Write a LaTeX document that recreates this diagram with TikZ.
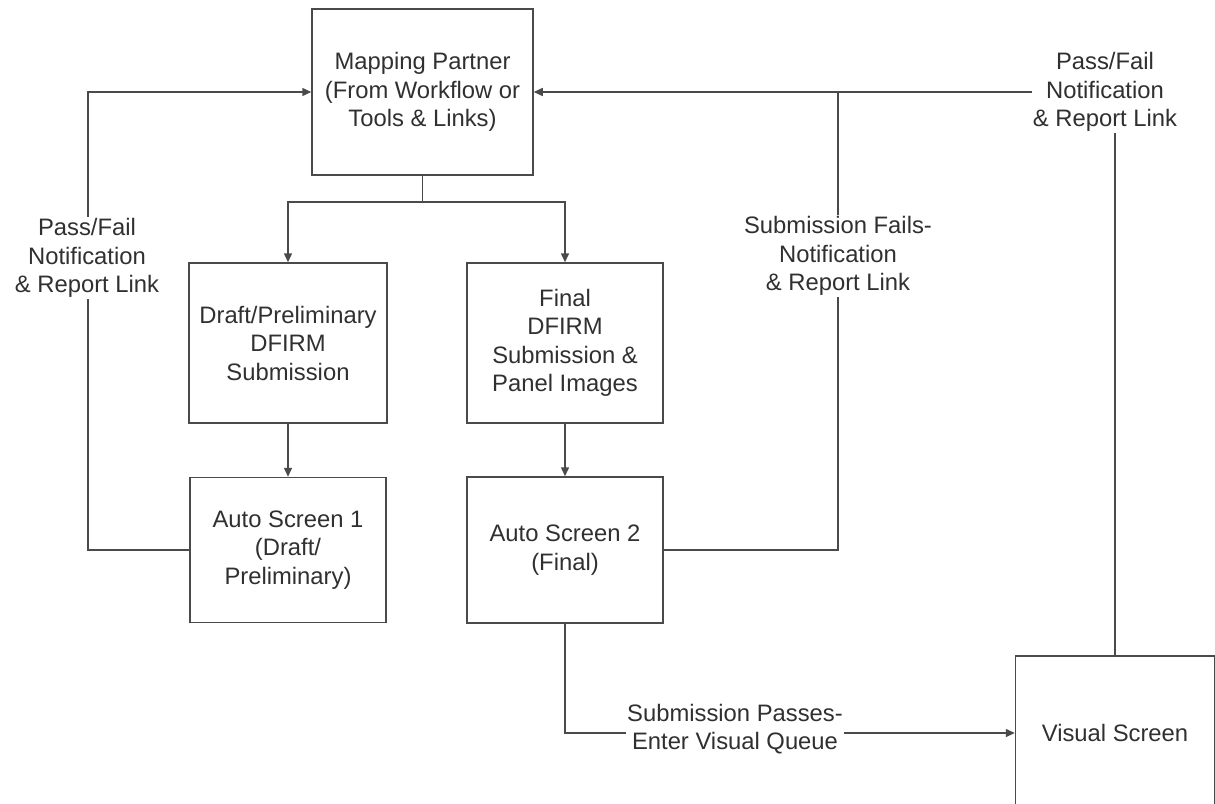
\documentclass[tikz,border=0pt]{standalone}
\usepackage{fontspec}
\setmainfont{Liberation Sans}
\usetikzlibrary{arrows.meta}
\definecolor{inkgray}{HTML}{303030}
\definecolor{linegray}{HTML}{4A4A4A}
\begin{document}
\begin{tikzpicture}[x=1pt,y=-1pt,
  every node/.style={font=\fontsize{23.8}{28.5}\selectfont, text=inkgray, align=center},
  box/.style={draw=linegray, line width=1.5pt, inner sep=0pt},
  lbl/.style={fill=white, inner sep=1pt},
  wire/.style={draw=linegray, line width=1.5pt},
  arr/.style={wire, -{Triangle[width=8pt,length=9pt]}}]
\useasboundingbox (0,0) rectangle (1215,803);

% boxes
\node[box, minimum width=221pt, minimum height=166pt] (mapping) at (422.5,92) {Mapping Partner\\(From Workflow or\\Tools \& Links)};
\node[box, minimum width=198pt, minimum height=160pt] (draft) at (288,343) {Draft/Preliminary\\DFIRM\\Submission};
\node[box, minimum width=196pt, minimum height=160pt] (final) at (565,343) {Final\\DFIRM\\Submission \&\\Panel Images};
\node[box, minimum width=196pt, minimum height=145pt] (auto1) at (288,550) {Auto Screen 1\\(Draft/\\Preliminary)};
\node[box, minimum width=196pt, minimum height=146pt] (auto2) at (565,550) {Auto Screen 2\\(Final)};
\node[box, minimum width=199pt, minimum height=154pt] (visual) at (1115,733) {Visual Screen}; % runs off the page

% split below mapping partner
\coordinate (split) at (422.5,202);
\draw[wire] (mapping.south) -- (split);
\draw[arr] (split) -| (draft.north);
\draw[arr] (split) -| (final.north);
\draw[arr] (draft.south) -- (auto1.north);
\draw[arr] (final.south) -- (auto2.north);

% left loop
\coordinate (leftup) at (88,92);
\draw[arr] (auto1.west) -| (leftup) -- (mapping.west);
\node[lbl] (passleft) at (87,258) {Pass/Fail\\Notification\\\& Report Link};

% right loop
\coordinate (failjoin) at (838,92);
\draw[wire] (auto2.east) -| (failjoin);
\node[lbl] (failnote) at (838,256) {Submission Fails-\\Notification\\\& Report Link};

% visual screen back to mapping partner
\draw[arr] (visual.north) |- (mapping.east);
\node[lbl] (passright) at (1105,92) {Pass/Fail\\Notification\\\& Report Link};

% pass to visual queue
\draw[arr] (auto2.south) |- (visual.west);
\node[lbl] (passnote) at (735,729) {Submission Passes-\\Enter Visual Queue};

\end{tikzpicture}
\end{document}
